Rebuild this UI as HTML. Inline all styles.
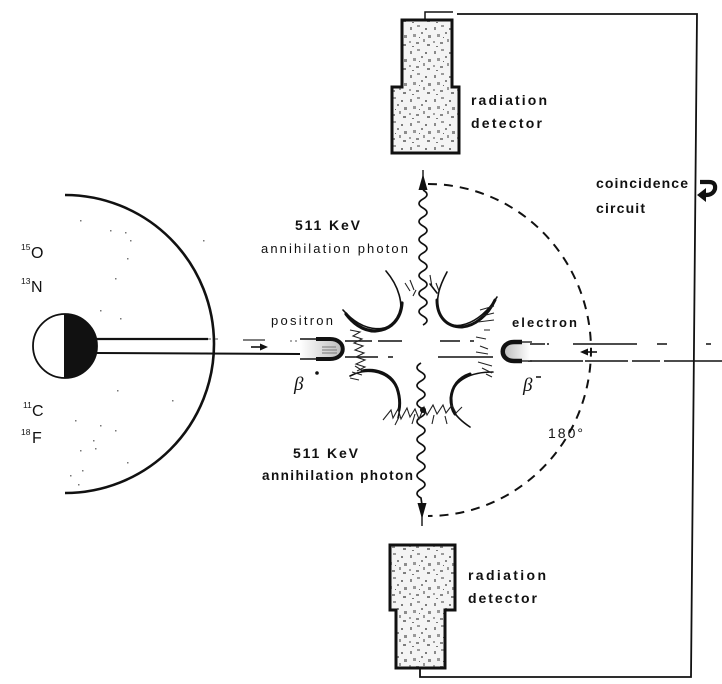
<!DOCTYPE html>
<html><head><meta charset="utf-8"><style>
html,body{margin:0;padding:0;background:#fff;}
svg{display:block;}
text{font-family:"Liberation Sans",sans-serif;fill:#111;}
</style></head><body>
<svg width="722" height="684" viewBox="0 0 722 684" xmlns="http://www.w3.org/2000/svg">
<defs>
<pattern id="sp" width="24" height="24" patternUnits="userSpaceOnUse">
<rect width="24" height="24" fill="#f4f4f4"/>
<rect x="2" y="3" width="2" height="3" fill="#8a8a8a"/>
<rect x="9" y="1" width="3" height="2" fill="#9a9a9a"/>
<rect x="17" y="4" width="2" height="2" fill="#7a7a7a"/>
<rect x="5" y="10" width="3" height="3" fill="#999"/>
<rect x="13" y="8" width="2" height="2" fill="#888"/>
<rect x="20" y="11" width="3" height="3" fill="#8d8d8d"/>
<rect x="1" y="17" width="2" height="2" fill="#a0a0a0"/>
<rect x="8" y="18" width="3" height="2" fill="#888"/>
<rect x="15" y="15" width="2" height="3" fill="#999"/>
<rect x="19" y="20" width="3" height="2" fill="#7f7f7f"/>
<rect x="11" y="13" width="1" height="1" fill="#666"/>
<rect x="4" y="22" width="2" height="1" fill="#777"/>
</pattern>
<linearGradient id="pg" x1="0" x2="1" y1="0" y2="0">
<stop offset="0" stop-color="#fff"/><stop offset="1" stop-color="#bbb"/>
</linearGradient>
<linearGradient id="eg" x1="1" x2="0" y1="0" y2="0">
<stop offset="0" stop-color="#fff"/><stop offset="1" stop-color="#bbb"/>
</linearGradient>
</defs>

<path d="M65,195 A149,149 0 0 1 65,493" fill="none" stroke="#111" stroke-width="2.6"/>
<g fill="#777">
<rect x="80" y="220" width="1.5" height="1.5"/><rect x="110" y="230" width="1.5" height="1.5"/><rect x="125" y="232" width="1.5" height="1.5"/>
<rect x="130" y="240" width="1.5" height="1.5"/><rect x="203" y="240" width="1.5" height="1.5"/><rect x="127" y="258" width="1.5" height="1.5"/>
<rect x="115" y="278" width="1.5" height="1.5"/><rect x="100" y="310" width="1.5" height="1.5"/><rect x="120" y="318" width="1.5" height="1.5"/>
<rect x="117" y="390" width="1.5" height="1.5"/><rect x="172" y="400" width="1.5" height="1.5"/><rect x="75" y="420" width="1.5" height="1.5"/>
<rect x="100" y="425" width="1.5" height="1.5"/><rect x="93" y="440" width="1.5" height="1.5"/><rect x="115" y="430" width="1.5" height="1.5"/>
<rect x="80" y="450" width="1.5" height="1.5"/><rect x="95" y="448" width="1.5" height="1.5"/><rect x="127" y="462" width="1.5" height="1.5"/>
<rect x="70" y="475" width="1.5" height="1.5"/><rect x="82" y="470" width="1.5" height="1.5"/><rect x="78" y="484" width="1.5" height="1.5"/>
</g>
<circle cx="65" cy="346" r="32" fill="#fff" stroke="#111" stroke-width="1.8"/>
<path d="M65,314 A32,32 0 0 1 65,378 Z" fill="#111"/>
<line x1="65" y1="314" x2="65" y2="378" stroke="#111" stroke-width="2"/>
<line x1="96" y1="339" x2="208" y2="339" stroke="#111" stroke-width="2.2"/>
<line x1="96" y1="353" x2="300" y2="354" stroke="#111" stroke-width="2"/>
<line x1="208" y1="339" x2="222" y2="339" stroke="#555" stroke-width="1" stroke-dasharray="3 4"/>
<line x1="243" y1="340" x2="265" y2="340" stroke="#333" stroke-width="1.2"/>
<line x1="290" y1="341" x2="298" y2="341" stroke="#555" stroke-width="1" stroke-dasharray="2 3"/>
<line x1="251" y1="347" x2="262" y2="347" stroke="#111" stroke-width="1.6"/>
<polygon points="268,347 260,343.5 260,350.5" fill="#111"/>

<text x="21" y="250" font-size="8.5">15</text><text x="31" y="258" font-size="16">O</text>
<text x="21" y="284" font-size="8.5">13</text><text x="31" y="292" font-size="16">N</text>
<text x="23" y="408" font-size="8.5">11</text><text x="32" y="416" font-size="16">C</text>
<text x="21" y="435" font-size="8.5">18</text><text x="32" y="443" font-size="16">F</text>

<path d="M402,20 H452 V87 H459 V153 H392 V87 H402 Z" fill="url(#sp)" stroke="#111" stroke-width="3"/>
<path d="M390,545 H455 V610 H445 V668 H396 V610 H390 Z" fill="url(#sp)" stroke="#111" stroke-width="3"/>

<polyline points="425,20 425,12 453,12" fill="none" stroke="#111" stroke-width="1.5"/>
<polyline points="457,14 697,14 691,677 420,677 420,668" fill="none" stroke="#111" stroke-width="1.8"/>

<text x="471" y="105" font-size="14" font-weight="bold" textLength="76" lengthAdjust="spacing">radiation</text>
<text x="471" y="128" font-size="14" font-weight="bold" textLength="71" lengthAdjust="spacing">detector</text>
<text x="468" y="580" font-size="14" font-weight="bold" textLength="78" lengthAdjust="spacing">radiation</text>
<text x="468" y="603" font-size="14" font-weight="bold" textLength="69" lengthAdjust="spacing">detector</text>
<text x="596" y="188" font-size="14" font-weight="bold" textLength="92" lengthAdjust="spacing">coincidence</text>
<text x="596" y="213" font-size="14" font-weight="bold" textLength="49" lengthAdjust="spacing">circuit</text>
<path d="M700,182 H709 Q716,182 715,189 Q713,195 706,195 H704" fill="none" stroke="#111" stroke-width="4.2"/>
<polygon points="697,195 706,188 706,202" fill="#111"/>

<text x="295" y="230" font-size="14" font-weight="bold" textLength="65" lengthAdjust="spacing">511 KeV</text>
<text x="261" y="253" font-size="13" textLength="147" lengthAdjust="spacing">annihilation photon</text>
<text x="293" y="458" font-size="14" font-weight="bold" textLength="65" lengthAdjust="spacing">511 KeV</text>
<text x="262" y="480" font-size="13.5" font-weight="bold" textLength="151" lengthAdjust="spacing">annihilation photon</text>

<text x="271" y="325" font-size="13" textLength="62" lengthAdjust="spacing">positron</text>
<text x="512" y="327" font-size="13" font-weight="bold" textLength="65" lengthAdjust="spacing">electron</text>
<text x="548" y="438" font-size="14" textLength="35" lengthAdjust="spacing">180°</text>
<text x="294" y="390" font-size="19" font-style="italic" style="font-family:'Liberation Serif',serif">β</text>
<circle cx="317" cy="373" r="1.8" fill="#111"/>
<text x="523" y="391" font-size="19" font-style="italic" style="font-family:'Liberation Serif',serif">β</text>
<line x1="536" y1="377" x2="541" y2="377" stroke="#111" stroke-width="1.5"/>

<path d="M428,184 A163,166 0 0 1 428,516" fill="none" stroke="#111" stroke-width="2" stroke-dasharray="9 7"/>

<path d="M423,190 q8,4.5 0,9 q-8,4.5 0,9 q8,4.5 0,9 q-8,4.5 0,9 q8,4.5 0,9 q-8,4.5 0,9 q8,4.5 0,9 q-8,4.5 0,9 q8,4.5 0,9 q-8,4.5 0,9 q8,4.5 0,9 q-8,4.5 0,9 q8,4.5 0,9 q-8,4.5 0,9 q8,4.5 0,9" fill="none" stroke="#111" stroke-width="1.7"/>
<line x1="423" y1="170" x2="423" y2="190" stroke="#111" stroke-width="1.4"/>
<polygon points="423,174 418.5,190 427.5,190" fill="#111"/>
<path d="M421,363 q-8,4.5 0,9 q8,4.5 0,9 q-8,4.5 0,9 q8,4.5 0,9 q-8,4.5 0,9 q8,4.5 0,9 q-8,4.5 0,9 q8,4.5 0,9 q-8,4.5 0,9 q8,4.5 0,9 q-8,4.5 0,9 q8,4.5 0,9 q-8,4.5 0,9 q8,4.5 0,9 q-8,4.5 0,9 L422,505" fill="none" stroke="#111" stroke-width="1.7"/>
<line x1="422" y1="505" x2="422" y2="526" stroke="#111" stroke-width="1.4"/>
<polygon points="422,519 417.5,503 426.5,503" fill="#111"/>

<g stroke="#111" stroke-width="1.5" fill="none">
<line x1="345" y1="341" x2="372" y2="341"/><line x1="378" y1="341" x2="402" y2="341"/>
<line x1="440" y1="341" x2="460" y2="341"/><line x1="470" y1="341" x2="474" y2="341"/>
<line x1="345" y1="357" x2="378" y2="357"/><line x1="388" y1="357" x2="393" y2="357"/>
<line x1="438" y1="357" x2="493" y2="357"/>
<line x1="528" y1="344" x2="545" y2="344"/><line x1="547" y1="344" x2="549" y2="344"/>
<line x1="573" y1="344" x2="637" y2="344"/><line x1="657" y1="344" x2="667" y2="344"/><line x1="706" y1="344" x2="711" y2="344"/>
<line x1="528" y1="361" x2="583" y2="361"/><line x1="585" y1="361" x2="628" y2="361"/>
<line x1="632" y1="361" x2="660" y2="361"/><line x1="664" y1="361" x2="722" y2="361"/>
</g>
<line x1="585" y1="352" x2="597" y2="352" stroke="#111" stroke-width="1.6"/>
<polygon points="580,352 588,348.5 588,355.5" fill="#111"/>

<path d="M300,339 H330 C347,339 347,359 330,359 H300" fill="url(#pg)" stroke="none"/>
<line x1="300" y1="339" x2="318" y2="339" stroke="#111" stroke-width="1.4"/>
<line x1="300" y1="359" x2="318" y2="359" stroke="#111" stroke-width="1.4"/>
<path d="M316,339 H330 C347,339 347,359 330,359 H316" fill="none" stroke="#111" stroke-width="4"/>
<g stroke="#777" stroke-width="1"><line x1="322" y1="350" x2="337" y2="350"/><line x1="322" y1="353" x2="337" y2="353"/><line x1="322" y1="347" x2="336" y2="347"/></g>

<path d="M530,342 H514 C499,342 499,361 514,361 H530" fill="url(#eg)" stroke="none"/>
<path d="M522,342 H514 C499,342 499,361 514,361 H522" fill="none" stroke="#111" stroke-width="4.5"/>
<line x1="522" y1="342" x2="532" y2="342" stroke="#111" stroke-width="1.3"/>
<line x1="522" y1="361" x2="532" y2="361" stroke="#111" stroke-width="1.3"/>

<g fill="none" stroke="#111" stroke-linecap="round">
<path d="M386,271 C398,285 405,305 398,318 C390,332 365,335 343,310" stroke-width="1.6"/>
<path d="M402,303 C401,318 392,330 375,331 C362,331 352,322 346,314" stroke-width="3.2"/>
<path d="M447,272 C440,285 434,300 440,315 C450,335 480,325 497,297" stroke-width="1.6"/>
<path d="M437,300 C437,315 445,327 462,327 C475,326 488,315 495,300" stroke-width="3"/>
<path d="M430,284 L437,293" stroke-width="1.6"/>
<path d="M350,376 C365,368 385,370 395,385 C402,397 400,410 398,418" stroke-width="1.6"/>
<path d="M362,371 C378,368 392,375 397,388 C400,397 400,405 399,410" stroke-width="3"/>
<path d="M493,372 C470,372 455,380 451,395 C449,405 452,415 470,427" stroke-width="1.6"/>
<path d="M470,374 C458,378 452,387 451,398 C451,405 452,410 455,414" stroke-width="3"/>
</g>

<g fill="none" stroke="#222" stroke-width="1.1">
<path d="M350,330 l10,2 l-7,4 l9,3 l-8,4 l9,3 l-8,4 l9,3 l-8,4 l9,3 l-9,4 l9,3 l-8,4"/>
<path d="M355,366 l8,5 M352,372 l10,3 M350,378 l9,2"/>
<path d="M480,310 l14,-4 M482,316 l12,-3 M478,322 l16,-2 M484,330 l6,0 M476,337 l10,2 M480,346 l8,3 M476,352 l12,2 M478,362 l14,4 M482,368 l10,5 M486,374 l6,3"/>
<path d="M405,283 l5,8 M410,280 l4,10 M416,290 l-3,6 M430,275 l2,12 M436,283 l3,8"/>
<path d="M383,420 l8,-10 l2,8 l5,-9 l3,10 l6,-11 l3,9 l5,-8 l4,10 l5,-12 l3,8 l6,-10 l4,9 l6,-9 l3,8 l6,-8 l4,8 l6,-6"/>
<path d="M395,425 l4,-8 M412,424 l3,-10 M432,424 l2,-9 M447,424 l-2,-8"/>
</g>
<circle cx="423" cy="410" r="3" fill="#111"/>
</svg>
</body></html>
